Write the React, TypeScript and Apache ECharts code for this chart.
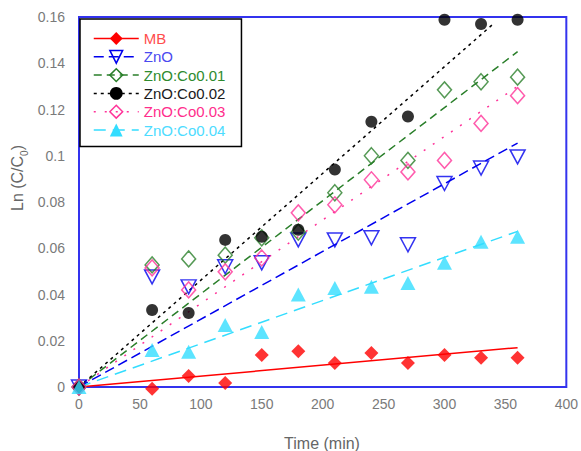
import React, { useEffect, useRef } from 'react';
import * as echarts from 'echarts';

const times = [0, 60, 90, 120, 150, 180, 210, 240, 270, 300, 330, 360];
const seriesNames = ['MB', 'ZnO', 'ZnO:Co0.01', 'ZnO:Co0.02', 'ZnO:Co0.03', 'ZnO:Co0.04'];
const mbValues = [0, -0.0008, 0.0048, 0.0017, 0.0138, 0.0155, 0.0104, 0.0147, 0.0104, 0.0138, 0.0126, 0.0126];
const znoValues = [0, 0.0476, 0.0433, 0.052, 0.0537, 0.0636, 0.0636, 0.0645, 0.0615, 0.088, 0.0947, 0.0995];
const co001Values = [0, 0.0528, 0.0554, 0.057, 0.0645, 0.067, 0.084, 0.1, 0.098, 0.1285, 0.132, 0.134];
const co002Values = [0, 0.0333, 0.032, 0.0636, 0.065, 0.068, 0.094, 0.1147, 0.117, 0.1588, 0.157, 0.1588];
const co003Values = [0, 0.0515, 0.042, 0.0498, 0.0558, 0.0753, 0.0788, 0.0896, 0.093, 0.098, 0.114, 0.126];
const co004Values = [0, 0.016, 0.0152, 0.0268, 0.0238, 0.04, 0.0428, 0.0433, 0.045, 0.0537, 0.0628, 0.065];
const allValues = [mbValues, znoValues, co001Values, co002Values, co003Values, co004Values];
// linear fit lines through origin: end points
const fitEndTimes = [360, 360, 360, 340, 360, 360];
const fitEndValues = [0.017, 0.1055, 0.145, 0.157, 0.13, 0.0673];

const FONT = 'Liberation Sans, Arial, sans-serif';
const markColors = ['#ff0000', '#0000ee', '#2a7f2a', '#000000', '#ff3399', '#33ddff'];
const textColors = ['#ff4d4d', '#4a4af0', '#2e8b2e', '#1a1a1a', '#ff2e8c', '#4ddcff'];
const symbols = ['diamond', 'triangle', 'diamond', 'circle', 'diamond', 'triangle'];
const symbolRotates = [0, 180, 0, 0, 0, 0];
const symbolSizes: any[] = [14, [15, 14], [14, 16], 12, [14, 16], [15, 14]];
const hollow = [false, true, true, false, true, false];
const dashTypes: any[] = ['solid', [10, 5], [8, 5], [3, 4], [2, 9], [12, 7]];

export default function App() {
  const ref = useRef<HTMLDivElement>(null);
  useEffect(() => {
    if (!ref.current) return;
    const chart = echarts.init(ref.current, undefined, { renderer: 'svg' });

    const itemStyleFor = (i: number) =>
      hollow[i]
        ? { color: 'rgba(255,255,255,0)', borderColor: markColors[i], borderWidth: 1.5 }
        : { color: markColors[i], borderWidth: 0 };

    const fitSeries = seriesNames.map((name, i) => ({
      type: 'line',
      name,
      data: [
        [0, 0],
        [fitEndTimes[i], fitEndValues[i]],
      ],
      showSymbol: false,
      symbol: symbols[i],
      symbolRotate: symbolRotates[i],
      lineStyle: { color: markColors[i], width: 1.5, type: dashTypes[i] },
      itemStyle: itemStyleFor(i),
      z: 2,
      silent: true,
    }));

    const pointSeries = seriesNames.map((name, i) => ({
      type: 'scatter',
      name: name + ' data',
      data: times.map((t, k) => [t, allValues[i][k]]),
      symbol: symbols[i],
      symbolRotate: symbolRotates[i],
      symbolSize: symbolSizes[i],
      itemStyle: itemStyleFor(i),
      clip: false,
      z: 3,
    }));

    chart.setOption({
      animation: false,
      grid: {
        left: 79,
        top: 17,
        right: 14,
        bottom: 64,
        show: true,
        borderColor: '#3333ee',
        borderWidth: 2,
        backgroundColor: 'transparent',
      },
      xAxis: {
        type: 'value',
        min: 0,
        max: 400,
        interval: 50,
        axisLine: { show: false },
        axisTick: { show: false },
        splitLine: { show: false },
        axisLabel: { color: '#7a7a7a', fontSize: 14, fontFamily: FONT, margin: 10 },
      },
      yAxis: {
        type: 'value',
        min: 0,
        max: 0.16,
        interval: 0.02,
        axisLine: { show: false },
        axisTick: { show: false },
        splitLine: { show: false },
        axisLabel: { color: '#7a7a7a', fontSize: 14, fontFamily: FONT, margin: 14 },
      },
      legend: {
        orient: 'vertical',
        left: 80,
        top: 19,
        padding: [12, 16, 9, 13],
        itemWidth: 45,
        itemHeight: 16,
        itemGap: 3.3,
        borderColor: '#000',
        borderWidth: 1.5,
        backgroundColor: '#fff',
        textStyle: { fontSize: 15, fontFamily: FONT },
        data: seriesNames.map((name, i) => ({
          name,
          textStyle: { color: textColors[i], fontSize: 15, fontFamily: FONT },
          itemStyle: itemStyleFor(i),
          lineStyle: { color: markColors[i], width: 1.5, type: dashTypes[i], opacity: 1 },
        })),
        selectedMode: false,
      },
      graphic: [
        {
          type: 'text',
          x: 322,
          y: 443,
          style: {
            text: 'Time (min)',
            fill: '#666',
            fontSize: 16,
            fontFamily: FONT,
            align: 'center',
            verticalAlign: 'middle',
          },
        },
        {
          type: 'text',
          x: 17,
          y: 178,
          rotation: Math.PI / 2,
          style: {
            text: 'Ln (C/C{s|0})',
            fill: '#666',
            fontSize: 16,
            fontFamily: FONT,
            align: 'center',
            verticalAlign: 'middle',
            lineHeight: 24,
            rich: {
              s: { fontSize: 10, fontFamily: FONT, fill: '#666', verticalAlign: 'bottom', lineHeight: 24 },
            },
          },
        },
      ],
      series: [...fitSeries, ...pointSeries],
    });
    return () => chart.dispose();
  }, []);
  return (
    <div
      ref={ref}
      style={{ position: 'absolute', left: 0, top: 0, width: 581, height: 451, background: '#fff' }}
    />
  );
}
